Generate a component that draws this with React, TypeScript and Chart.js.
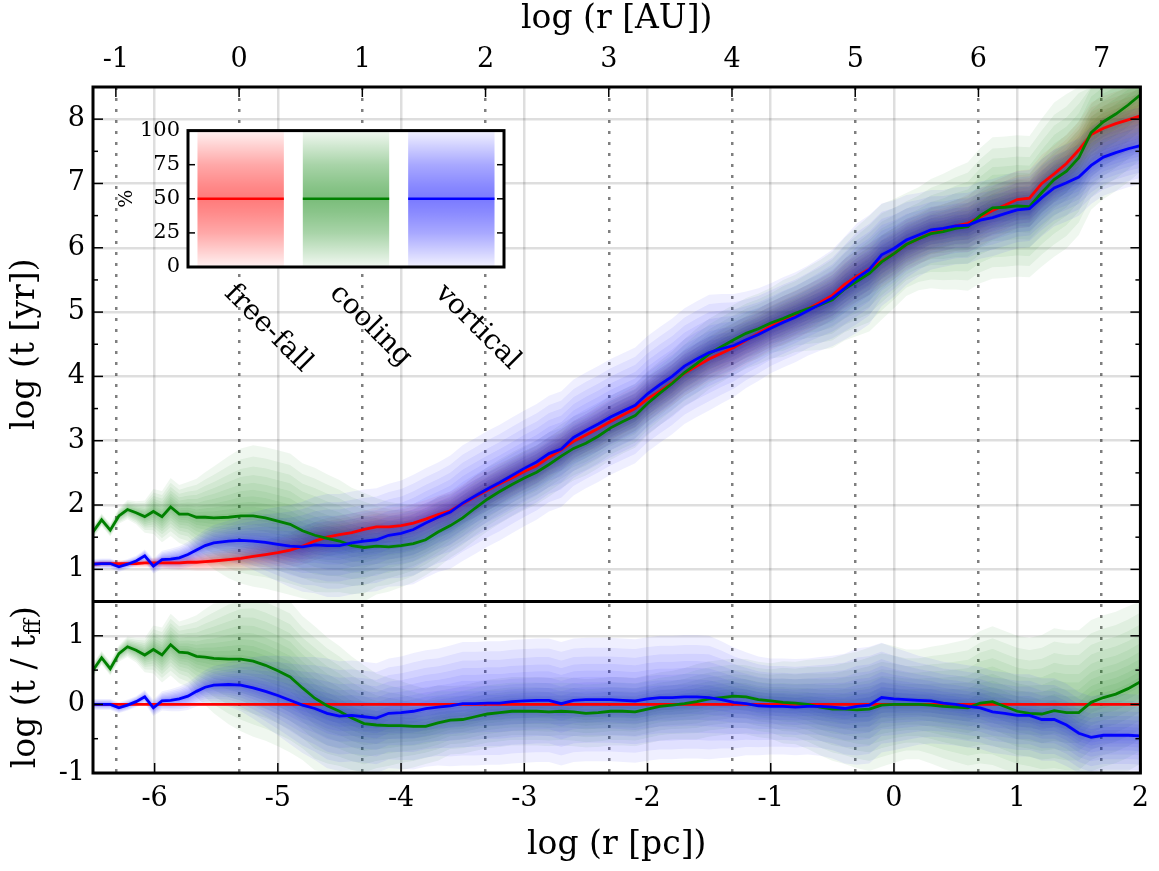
import React, { useEffect, useRef } from 'react';
import { Chart, registerables } from 'chart.js';

Chart.register(...registerables);

const FONT = "'DejaVu Serif', 'Liberation Serif', serif";

// ---------------- data ----------------
// log10 of radius in parsec
const logRpc = [
  -6.5, -6.43, -6.36, -6.29, -6.22, -6.15, -6.08, -6.01, -5.94, -5.87, -5.8, -5.73, -5.66, -5.59, -5.52,
  -5.4, -5.3, -5.2, -5.1, -5.0, -4.9, -4.8, -4.7, -4.6, -4.5,
  -4.4, -4.3, -4.2, -4.1, -4.0, -3.9, -3.8, -3.7, -3.6, -3.5,
  -3.4, -3.3, -3.2, -3.1, -3.0, -2.9, -2.8, -2.7, -2.6, -2.5,
  -2.4, -2.3, -2.2, -2.1, -2.0, -1.9, -1.8, -1.7, -1.6, -1.5,
  -1.4, -1.3, -1.2, -1.1, -1.0, -0.9, -0.8, -0.7, -0.6, -0.5,
  -0.4, -0.3, -0.2, -0.1, 0.0, 0.1, 0.2, 0.3, 0.4, 0.5,
  0.6, 0.7, 0.8, 0.9, 1.0, 1.1, 1.2, 1.3, 1.4, 1.5,
  1.6, 1.7, 1.8, 1.9, 2.0,
];

// median log t_ff [yr]
const logTff = [
  1.08, 1.09, 1.09, 1.09, 1.09, 1.09, 1.10, 1.10, 1.10, 1.10, 1.10, 1.11, 1.11, 1.12, 1.13,
  1.15, 1.17, 1.20, 1.23, 1.26, 1.30, 1.36, 1.44, 1.50, 1.54,
  1.57, 1.62, 1.66, 1.66, 1.68, 1.72, 1.78, 1.85, 1.91, 2.02,
  2.13, 2.23, 2.33, 2.42, 2.52, 2.61, 2.74, 2.86, 2.99, 3.09,
  3.19, 3.30, 3.40, 3.50, 3.65, 3.77, 3.90, 4.05, 4.16, 4.27,
  4.36, 4.45, 4.56, 4.67, 4.78, 4.87, 4.96, 5.05, 5.15, 5.26,
  5.43, 5.56, 5.67, 5.79, 5.91, 6.05, 6.14, 6.23, 6.28, 6.34,
  6.38, 6.48, 6.58, 6.66, 6.75, 6.77, 7.00, 7.15, 7.31, 7.52,
  7.76, 7.86, 7.93, 7.99, 8.05,
];

// median log (t_cool / t_ff)
const coolOverFf = [
  0.50, 0.68, 0.52, 0.74, 0.84, 0.79, 0.72, 0.80, 0.72, 0.87, 0.76, 0.75, 0.70, 0.69, 0.67,
  0.66, 0.66, 0.63, 0.57, 0.49, 0.40, 0.24, 0.09, -0.02, -0.10,
  -0.20, -0.28, -0.30, -0.31, -0.31, -0.32, -0.32, -0.27, -0.23, -0.22,
  -0.18, -0.14, -0.12, -0.10, -0.10, -0.10, -0.11, -0.10, -0.11, -0.13,
  -0.12, -0.10, -0.10, -0.11, -0.07, -0.03, -0.01, 0.01, 0.04, 0.08,
  0.10, 0.12, 0.11, 0.07, 0.05, 0.03, 0.02, 0.00, -0.04, -0.07,
  -0.07, -0.08, -0.07, -0.01, 0.00, 0.00, 0.00, -0.01, -0.03, -0.04,
  -0.05, 0.02, 0.04, -0.03, -0.10, -0.13, -0.14, -0.09, -0.12, -0.12,
  0.03, 0.10, 0.15, 0.23, 0.33,
];

// median log (t_vort / t_ff)
const vortOverFf = [
  0.00, 0.00, 0.00, -0.05, -0.01, 0.04, 0.11, -0.05, 0.05, 0.06, 0.08, 0.12, 0.19, 0.25, 0.28,
  0.29, 0.28, 0.24, 0.19, 0.13, 0.06, -0.01, -0.06, -0.13, -0.17,
  -0.16, -0.18, -0.20, -0.13, -0.12, -0.10, -0.06, -0.04, -0.02, 0.01,
  0.01, 0.02, 0.02, 0.04, 0.05, 0.06, 0.06, 0.01, 0.06, 0.07,
  0.07, 0.07, 0.06, 0.05, 0.08, 0.10, 0.10, 0.11, 0.11, 0.10,
  0.07, 0.03, 0.01, -0.02, -0.03, -0.03, -0.04, -0.03, -0.03, -0.04,
  -0.06, -0.03, -0.01, 0.10, 0.08, 0.07, 0.06, 0.05, 0.02, 0.00,
  -0.03, -0.05, -0.11, -0.13, -0.16, -0.16, -0.22, -0.22, -0.30, -0.42,
  -0.48, -0.45, -0.45, -0.45, -0.46,
];

// outer half-width of the percentile distributions (dex)
const ffSpread = [
  0.05, 0.05, 0.05, 0.05, 0.05, 0.06, 0.07, 0.08, 0.09, 0.10, 0.11, 0.12, 0.13, 0.14, 0.15,
  0.17, 0.19, 0.21, 0.23, 0.25, 0.27, 0.29, 0.30, 0.30, 0.30,
  0.30, 0.30, 0.30, 0.30, 0.30, 0.30, 0.30, 0.30, 0.30, 0.30,
  0.32, 0.32, 0.32, 0.32, 0.32, 0.32, 0.32, 0.32, 0.32, 0.32,
  0.35, 0.35, 0.35, 0.35, 0.35, 0.35, 0.35, 0.35, 0.35, 0.35,
  0.38, 0.38, 0.38, 0.38, 0.38, 0.38, 0.38, 0.38, 0.38, 0.38,
  0.40, 0.40, 0.40, 0.40, 0.40, 0.40, 0.40, 0.40, 0.40, 0.40,
  0.45, 0.45, 0.45, 0.45, 0.45, 0.45, 0.45, 0.45, 0.45, 0.45,
  0.50, 0.50, 0.50, 0.50, 0.50,
];
const coolSpread = [
  0.10, 0.10, 0.10, 0.12, 0.15, 0.18, 0.25, 0.35, 0.40, 0.45, 0.45, 0.50, 0.60, 0.70, 0.80,
  0.95, 1.05, 1.10, 1.10, 1.10, 1.10, 1.05, 1.05, 1.00, 0.95,
  0.90, 0.85, 0.75, 0.70, 0.65, 0.60, 0.55, 0.55, 0.50, 0.50,
  0.50, 0.50, 0.50, 0.50, 0.50, 0.50, 0.50, 0.50, 0.50, 0.50,
  0.50, 0.50, 0.50, 0.50, 0.50, 0.50, 0.50, 0.52, 0.55, 0.55,
  0.55, 0.55, 0.55, 0.55, 0.55, 0.60, 0.60, 0.65, 0.70, 0.75,
  0.80, 0.85, 0.90, 0.90, 0.85, 0.80, 0.80, 0.85, 0.90, 0.95,
  1.00, 1.05, 1.10, 1.10, 1.10, 1.10, 1.15, 1.20, 1.20, 1.20,
  1.20, 1.20, 1.20, 1.20, 1.20,
];
const vortSpread = [
  0.08, 0.08, 0.08, 0.08, 0.08, 0.08, 0.10, 0.12, 0.14, 0.16, 0.18, 0.20, 0.22, 0.25, 0.28,
  0.32, 0.38, 0.45, 0.52, 0.58, 0.64, 0.70, 0.75, 0.80, 0.80,
  0.80, 0.80, 0.80, 0.80, 0.82, 0.85, 0.85, 0.85, 0.88, 0.90,
  0.90, 0.90, 0.90, 0.90, 0.90, 0.90, 0.90, 0.90, 0.90, 0.90,
  0.90, 0.90, 0.90, 0.90, 0.90, 0.90, 0.90, 0.90, 0.90, 0.90,
  0.85, 0.80, 0.75, 0.72, 0.70, 0.70, 0.70, 0.70, 0.72, 0.75,
  0.80, 0.85, 0.85, 0.80, 0.75, 0.70, 0.65, 0.62, 0.60, 0.60,
  0.60, 0.60, 0.60, 0.60, 0.60, 0.60, 0.60, 0.60, 0.60, 0.60,
  0.60, 0.60, 0.60, 0.60, 0.60,
];

// axes
const LOG_AU_PER_PC = 5.3144; // log10(206265)
const xRangePc = [-6.5, 2];
const yTopRange = [0.5, 8.5];
const yBotRange = [-1, 1.5];
const pcTicks = [-6, -5, -4, -3, -2, -1, 0, 1, 2];
const auTicks = [-1, 0, 1, 2, 3, 4, 5, 6, 7];
const yTopTicks = [1, 2, 3, 4, 5, 6, 7, 8];
const yBotTicks = [-1, 0, 1];

// percentile band rendering
const bandLevels = [1, 0.84, 0.7, 0.58, 0.47, 0.37, 0.28, 0.2, 0.13, 0.06];
const BAND_ALPHA = 0.062;

// inset
const insetLabels = ['free-fall', 'cooling', 'vortical'];
const insetPercentRange = [0, 100];
const insetMedian = 50;
const insetTicks = [0, 25, 50, 75, 100];
const insetAlphaStops = [
  [0, 0.05], [0.1, 0.17], [0.25, 0.34], [0.4, 0.46], [0.5, 0.52],
  [0.6, 0.46], [0.75, 0.34], [0.9, 0.17], [1, 0.05],
];

const RED = '255,0,0';
const GREEN = '0,128,0';
const BLUE = '0,0,255';
const insetColors = [RED, GREEN, BLUE];

// derived series
const logTcool = logTff.map((v, i) => v + coolOverFf[i]);
const logTvort = logTff.map((v, i) => v + vortOverFf[i]);
const ffOverFf = logTff.map((v) => v - v);

const toPts = (ys: number[], lo: number, hi: number) =>
  logRpc.map((x, i) => ({ x, y: Math.min(hi, Math.max(lo, ys[i])) }));

function bands(mid: number[], spread: number[], rgb: string, yAxisID: string, range: number[], order: number) {
  const ds: any[] = [];
  bandLevels.forEach((f) => {
    const common = {
      type: 'line', xAxisID: 'x', yAxisID, pointRadius: 0, borderWidth: 1,
      borderColor: 'rgba(0,0,0,0)', order,
    };
    ds.push({
      ...common,
      data: toPts(mid.map((m, i) => m + f * spread[i]), range[0], range[1]),
      fill: '+1',
      backgroundColor: `rgba(${rgb},${BAND_ALPHA})`,
    });
    ds.push({
      ...common,
      data: toPts(mid.map((m, i) => m - f * spread[i]), range[0], range[1]),
      fill: false,
    });
  });
  return ds;
}

function line(ys: number[], rgb: string, yAxisID: string, order: number) {
  return {
    type: 'line', xAxisID: 'x', yAxisID, data: toPts(ys, -99, 99),
    borderColor: `rgb(${rgb})`, borderWidth: 2.8, pointRadius: 0, fill: false, order, tension: 0,
  };
}

const tickFont = { size: 27, family: FONT };
const titleFont = { size: 33, family: FONT };
const fixTicks = (vals: number[]) => (s: any) => { s.ticks = vals.map((value) => ({ value })); };

const mainDecor = {
  id: 'mainDecor',
  afterDraw(chart: any) {
    const { ctx, chartArea: a, scales } = chart;
    const yT = scales.yT, yB = scales.yB, x = scales.x, x2 = scales.x2;
    ctx.save();
    ctx.strokeStyle = '#000';
    ctx.lineWidth = 1.5;
    const seg = (x1: number, y1: number, x3: number, y3: number) => {
      ctx.beginPath(); ctx.moveTo(x1, y1); ctx.lineTo(x3, y3); ctx.stroke();
    };
    for (const s of [yT, yB]) {
      for (let v = Math.ceil(s.min * 2) / 2; v <= s.max + 1e-9; v += 0.5) {
        if (v <= s.min + 1e-9 || v >= s.max - 1e-9) continue;
        const p = s.getPixelForValue(v);
        const len = Math.abs(v - Math.round(v)) < 1e-9 ? 10 : 5;
        seg(a.left, p, a.left + len, p);
        seg(a.right, p, a.right - len, p);
      }
    }
    for (const t of x.ticks) {
      const p = x.getPixelForValue(t.value);
      seg(p, a.bottom, p, a.bottom - 10);
    }
    for (const t of x2.ticks) {
      const p = x2.getPixelForValue(t.value);
      seg(p, a.top, p, a.top + 10);
    }
    ctx.lineWidth = 3;
    ctx.strokeRect(a.left, a.top, a.right - a.left, a.bottom - a.top);
    seg(a.left, yT.bottom, a.right, yT.bottom);

    // bottom panel y title with subscript
    const cy = (yB.top + yB.bottom) / 2;
    ctx.translate(26, cy);
    ctx.rotate(-Math.PI / 2);
    ctx.fillStyle = '#000';
    ctx.textBaseline = 'middle';
    const parts: [string, string, number][] = [
      ['log (t / t', `33px ${FONT}`, 0],
      ['ff', `22px ${FONT}`, 8],
      [')', `33px ${FONT}`, 0],
    ];
    let total = 0;
    const widths = parts.map(([t, f]) => { ctx.font = f; const w = ctx.measureText(t).width; total += w; return w; });
    let px = -total / 2;
    parts.forEach(([t, f, dy], i) => {
      ctx.font = f; ctx.textAlign = 'left';
      ctx.fillText(t, px, dy);
      px += widths[i];
    });
    ctx.restore();
  },
};

const insetDecor = {
  id: 'insetDecor',
  beforeDatasetsDraw(chart: any) {
    const { ctx, chartArea: a } = chart;
    ctx.save();
    ctx.fillStyle = '#fff';
    ctx.fillRect(a.left, a.top, a.right - a.left, a.bottom - a.top);
    ctx.restore();
  },
  afterDraw(chart: any) {
    const { ctx, chartArea: a, scales } = chart;
    const ys = scales.y, xs = scales.x;
    ctx.save();
    const meta = chart.getDatasetMeta(0);
    const ym = ys.getPixelForValue(insetMedian);
    meta.data.forEach((bar: any, i: number) => {
      const { x, width } = bar.getProps(['x', 'width'], true);
      ctx.strokeStyle = `rgb(${insetColors[i]})`;
      ctx.lineWidth = 2.5;
      ctx.beginPath(); ctx.moveTo(x - width / 2, ym); ctx.lineTo(x + width / 2, ym); ctx.stroke();
    });
    ctx.strokeStyle = '#000';
    ctx.lineWidth = 1.5;
    for (const t of ys.ticks) {
      if (t.value <= ys.min || t.value >= ys.max) continue;
      const p = ys.getPixelForValue(t.value);
      ctx.beginPath(); ctx.moveTo(a.left, p); ctx.lineTo(a.left + 7, p); ctx.stroke();
      ctx.beginPath(); ctx.moveTo(a.right, p); ctx.lineTo(a.right - 7, p); ctx.stroke();
    }
    ctx.lineWidth = 3;
    ctx.strokeRect(a.left, a.top, a.right - a.left, a.bottom - a.top);
    ctx.fillStyle = '#000';
    ctx.font = `28px ${FONT}`;
    ctx.textAlign = 'left';
    ctx.textBaseline = 'middle';
    insetLabels.forEach((lab, i) => {
      const cx = xs.getPixelForValue(i);
      ctx.save();
      ctx.translate(cx - 12, a.bottom + 22);
      ctx.rotate(Math.PI / 4);
      ctx.fillText(lab, 0, 0);
      ctx.restore();
    });
    ctx.restore();
  },
};

export default function App() {
  const mainRef = useRef<HTMLCanvasElement>(null);
  const insetRef = useRef<HTMLCanvasElement>(null);

  useEffect(() => {
    Chart.defaults.font.family = FONT;
    Chart.defaults.color = '#000';

    const datasets: any[] = [
      line(logTvort, BLUE, 'yT', 0),
      line(logTcool, GREEN, 'yT', 1),
      line(logTff, RED, 'yT', 2),
      line(vortOverFf, BLUE, 'yB', 0),
      line(coolOverFf, GREEN, 'yB', 1),
      line(ffOverFf, RED, 'yB', 2),
      ...bands(logTvort, vortSpread, BLUE, 'yT', yTopRange, 10),
      ...bands(logTcool, coolSpread, GREEN, 'yT', yTopRange, 11),
      ...bands(logTff, ffSpread, RED, 'yT', yTopRange, 12),
      ...bands(vortOverFf, vortSpread, BLUE, 'yB', yBotRange, 10),
      ...bands(coolOverFf, coolSpread, GREEN, 'yB', yBotRange, 11),
    ];

    const gridSolid = { color: 'rgba(0,0,0,0.13)', lineWidth: 2.5, drawTicks: false };
    const fmt = (v: any) => String(v);

    const main = new Chart(mainRef.current as HTMLCanvasElement, {
      type: 'line',
      data: { datasets },
      options: {
        animation: false,
        responsive: false,
        events: [],
        layout: { padding: { left: 0, right: 17, top: 0, bottom: 0 } },
        plugins: { legend: { display: false }, tooltip: { enabled: false } },
        scales: {
          x: {
            type: 'linear', position: 'bottom', min: xRangePc[0], max: xRangePc[1],
            afterFit: (s: any) => { s.height = 98; },
            afterBuildTicks: fixTicks(pcTicks),
            ticks: { font: tickFont, color: '#000', padding: 10, maxRotation: 0, autoSkip: false, callback: fmt },
            grid: gridSolid,
            border: { display: false },
            title: { display: true, text: 'log (r [pc])', font: titleFont, color: '#000', padding: { top: 0, bottom: 6 } },
          },
          x2: {
            type: 'linear', position: 'top', min: xRangePc[0] + LOG_AU_PER_PC, max: xRangePc[1] + LOG_AU_PER_PC,
            afterFit: (s: any) => { s.height = 87; },
            afterBuildTicks: fixTicks(auTicks),
            ticks: { font: tickFont, color: '#000', padding: 11, maxRotation: 0, autoSkip: false, callback: fmt },
            grid: { color: 'rgba(95,95,95,0.8)', lineWidth: 2.5, drawTicks: false },
            border: { display: false, dash: [3, 8] },
            title: { display: true, text: 'log (r [AU])', font: titleFont, color: '#000', padding: { top: 0, bottom: 0 } },
          },
          yB: {
            type: 'linear', position: 'left', stack: 'panels', stackWeight: 1,
            min: yBotRange[0], max: yBotRange[1],
            afterFit: (s: any) => { s.width = 93; },
            afterBuildTicks: fixTicks(yBotTicks),
            ticks: { font: tickFont, color: '#000', padding: 8, callback: fmt },
            grid: gridSolid,
            border: { display: false },
          },
          yT: {
            type: 'linear', position: 'left', stack: 'panels', stackWeight: 3,
            min: yTopRange[0], max: yTopRange[1],
            afterFit: (s: any) => { s.width = 93; },
            afterBuildTicks: fixTicks(yTopTicks),
            ticks: { font: tickFont, color: '#000', padding: 8, callback: fmt },
            grid: gridSolid,
            border: { display: false },
            title: { display: true, text: 'log (t [yr])', font: titleFont, color: '#000', padding: { top: 6, bottom: 0 } },
          },
        },
      } as any,
      plugins: [mainDecor],
    });

    const inset = new Chart(insetRef.current as HTMLCanvasElement, {
      type: 'bar',
      data: {
        labels: insetLabels,
        datasets: [{
          data: insetLabels.map(() => insetPercentRange),
          barPercentage: 0.82,
          categoryPercentage: 1,
          borderWidth: 0,
          backgroundColor: (c: any) => {
            const ch = c.chart;
            if (!ch.chartArea || !ch.scales.y) return 'rgba(0,0,0,0)';
            const ys = ch.scales.y;
            const g = ch.ctx.createLinearGradient(0, ys.getPixelForValue(insetPercentRange[0]), 0, ys.getPixelForValue(insetPercentRange[1]));
            const rgb = insetColors[c.dataIndex] || RED;
            insetAlphaStops.forEach(([o, al]) => g.addColorStop(o, `rgba(${rgb},${al})`));
            return g;
          },
        }],
      },
      options: {
        animation: false,
        responsive: false,
        events: [],
        layout: { padding: { left: 0, right: 36, top: 20, bottom: 0 } },
        plugins: { legend: { display: false }, tooltip: { enabled: false } },
        scales: {
          x: {
            afterFit: (s: any) => { s.height = 143; },
            ticks: { display: false },
            grid: { display: false, drawTicks: false },
            border: { display: false },
          },
          y: {
            min: insetPercentRange[0], max: insetPercentRange[1],
            afterFit: (s: any) => { s.width = 88; },
            afterBuildTicks: fixTicks(insetTicks),
            ticks: { font: { size: 21, family: FONT }, color: '#000', padding: 8 },
            grid: { display: false, drawTicks: false },
            border: { display: false },
            title: { display: true, text: '%', font: { size: 19, family: FONT }, color: '#000', padding: { top: 16, bottom: 0 } },
          },
        },
      } as any,
      plugins: [insetDecor],
    });

    return () => { main.destroy(); inset.destroy(); };
  }, []);

  return (
    <div style={{ position: 'fixed', left: 0, top: 0, width: 1159, height: 871, background: '#fff' }}>
      <canvas ref={mainRef} width={1159} height={871} style={{ position: 'absolute', left: 0, top: 0, width: 1159, height: 871 }} />
      <canvas ref={insetRef} width={440} height={300} style={{ position: 'absolute', left: 100, top: 110, width: 440, height: 300 }} />
    </div>
  );
}
